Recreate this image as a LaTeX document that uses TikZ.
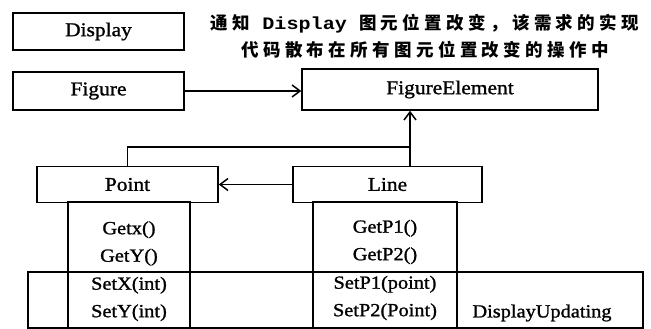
\documentclass[tikz,border=0pt]{standalone}
\usepackage{fontspec}
\setmainfont{Liberation Serif}[FakeStretch=1.1, FakeBold=1.2]
\newfontfamily\cjk{Noto Sans CJK SC}[LetterSpace=25]
\newfontfamily\monofnt{Liberation Mono}[FakeStretch=1.15]
\usetikzlibrary{arrows.meta, positioning}

\begin{document}
\begin{tikzpicture}[
  x=1pt, y=-1pt,
  >={Straight Barb[length=8pt, width=12pt]},
  link/.style={->, line width=1.5pt},
  wire/.style={line width=1.5pt},
  classbox/.style={draw, line width=1.5pt, inner sep=0pt, minimum height=37pt,
                   font=\fontsize{19.5}{22}\selectfont},
  colbox/.style={draw, line width=1.5pt, inner sep=0pt},
  optext/.style={align=center, font=\fontsize{18.5}{27.5}\selectfont}
]
\useasboundingbox (0,0) rectangle (651,329);

% classes
\node[classbox, minimum width=171] (display) at (98.5,31.5) {Display};
\node[classbox, minimum width=171, minimum height=38] (figure) at (98.5,91) {Figure};
\node[classbox, minimum width=296, minimum height=41] (figelem) at (450,89.5) {FigureElement};
\node[classbox, minimum width=181, minimum height=36] (point) at (127.5,184.5) {Point};
\node[classbox, minimum width=189, minimum height=36] (line) at (387.5,184.5) {Line};

% note on the crosscutting concern
\node[align=center, font=\fontsize{17.5}{27}\selectfont\bfseries\cjk] (note) at (425,36.5)
  {通知{\monofnt\bfseries\fontsize{17.5}{27}\selectfont\ Display }图元位置改变，该需求的实现\\代码散布在所有图元位置改变的操作中};

% method columns and the updating band
\node[colbox, minimum width=615, minimum height=56] (band) at (335.5,300) {};
\node[colbox, minimum width=122, minimum height=126] (pointcol) at (129,265) {};
\node[colbox, minimum width=144, minimum height=126] (linecol) at (385,265) {};

\node[optext] (pointget) at (129,243.5) {Getx()\\GetY()};
\node[optext] (pointset) at (129,299) {SetX(int)\\SetY(int)};
\node[optext] (lineget) at (385,242) {GetP1()\\GetP2()};
\node[optext] (lineset) at (385,298) {SetP1(point)\\SetP2(Point)};
\node[optext] (updating) at (542,313) {DisplayUpdating};

% relations
\coordinate (join) at (410,147);
\draw[link] (figure.east) -- (figure.east -| figelem.west);
\draw[link] (line.north -| join) -- (join |- figelem.south);
\draw[wire] (point.north) |- (join);
\draw[link] (line.west) -- (line.west -| point.east);

\end{tikzpicture}
\end{document}
